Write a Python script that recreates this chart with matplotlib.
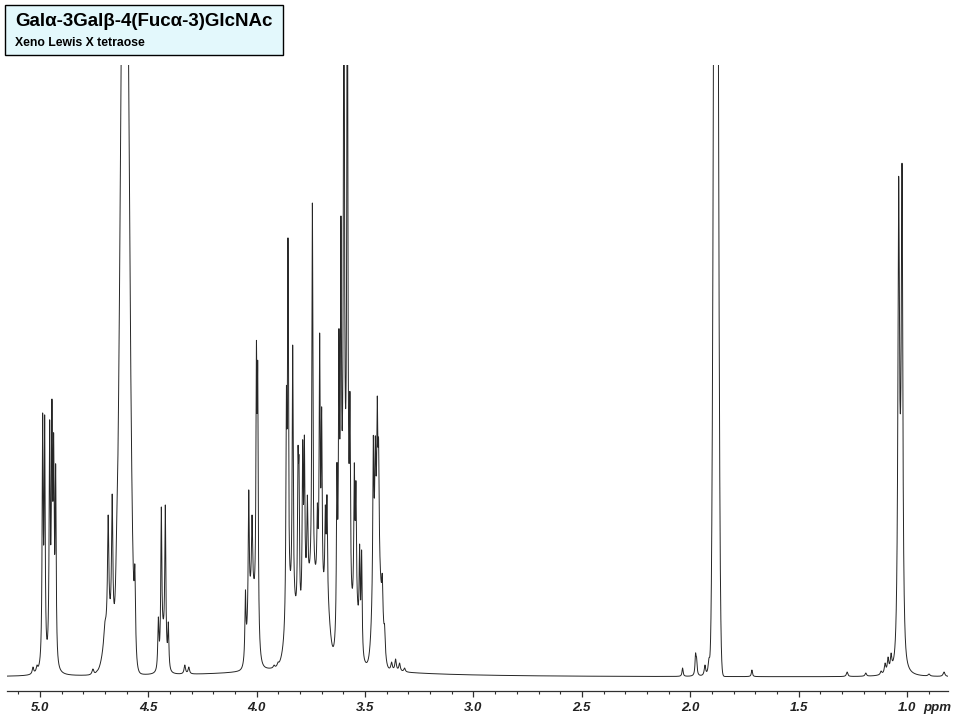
import numpy as np
import matplotlib
matplotlib.use("Agg")
import matplotlib.pyplot as plt
from matplotlib.patches import Rectangle

# ---------------- data ----------------
# sharp lines: chemical shift (ppm), apparent height (a.u.), Lorentzian half-width (ppm)
line_ppm = [5.0323, 5.0138, 4.9876, 4.9783, 4.9553, 4.9447, 4.9369, 4.9276, 4.7558, 4.7373,
            4.7005, 4.6853, 4.6668, 4.6465, 4.5622,
            4.4539, 4.4401, 4.4217, 4.4078, 4.3318, 4.3134,
            4.0521, 4.0369, 4.0217, 4.0014, 3.9954, 3.9203, 3.9018,
            3.8631, 3.8558, 3.8341, 3.8097, 3.8051, 3.7880, 3.7802, 3.7664, 3.7433,
            3.7203, 3.7097, 3.7005, 3.6835, 3.6760,
            3.6300, 3.6207, 3.6115, 3.5977, 3.5820, 3.5700, 3.5498, 3.5424, 3.5253, 3.5161,
            3.4622, 3.4530, 3.4438, 3.4378, 3.4207, 3.4101, 3.3779, 3.3594, 3.3410, 3.3180,
            2.0355, 1.9756, 1.9710, 1.9323, 1.9138, 1.7157,
            1.2765, 1.1903, 1.1198, 1.1014, 1.0876, 1.0737, 1.0387, 1.0230, 0.8986, 0.8295]
line_height = [10, 12, 264, 262, 257, 278, 244, 213, 8, 6,
               55, 162, 183, 150, 112,
               60, 170, 172, 55, 12, 10,
               87, 187, 162, 336, 315, 12, 15,
               290, 439, 332, 230, 220, 237, 242, 182, 474,
               174, 344, 270, 172, 182,
               214, 348, 461, 800, 800, 285, 214, 196, 133, 127,
               241, 241, 281, 238, 103, 52, 15, 18, 14, 9,
               9, 24, 20, 12, 19, 7,
               5, 4, 6, 14, 20, 24, 500, 513, 3, 5]
line_hw = [0.004, 0.004, 0.0028, 0.0028, 0.0028, 0.0028, 0.0028, 0.0028, 0.005, 0.005,
           0.006, 0.0035, 0.0035, 0.004, 0.0035,
           0.003, 0.0028, 0.0028, 0.003, 0.004, 0.004,
           0.0028, 0.0028, 0.0028, 0.0028, 0.0028, 0.004, 0.004,
           0.0028, 0.0028, 0.0028, 0.0028, 0.0028, 0.0028, 0.0028, 0.0028, 0.0028,
           0.0028, 0.0028, 0.0028, 0.0028, 0.0028,
           0.0028, 0.0028, 0.0028, 0.0028, 0.0028, 0.0028, 0.0028, 0.0028, 0.0028, 0.0028,
           0.0028, 0.0028, 0.0028, 0.0028, 0.003, 0.003, 0.004, 0.004, 0.004, 0.004,
           0.003, 0.003, 0.003, 0.004, 0.005, 0.003,
           0.004, 0.004, 0.004, 0.004, 0.004, 0.004, 0.0040, 0.0040, 0.005, 0.005]

# broad unresolved envelopes under the multiplets (Gaussian): centre, height, sigma
hump_ppm = [4.9447, 4.6806, 4.4309, 4.0217, 3.8387, 3.7650, 3.7189, 3.6774,
            3.5945, 3.5438, 3.4493, 3.4240, 1.0310]
hump_height = [30, 45, 30, 75, 55, 65, 60, 50, 100, 45, 120, 40, 90]
hump_sigma = [0.009, 0.023, 0.010, 0.016, 0.023, 0.023, 0.023, 0.014,
              0.018, 0.014, 0.014, 0.0115, 0.009]

# strong singlets (Gaussian): HDO and N-acetyl CH3 (tops are off scale)
singlet_ppm = [4.6083, 1.8816]
singlet_height = [960, 1400]
singlet_sigma = [0.018, 0.0090]

# slowly decaying baseline offset
base_ppm, base_height, base_hw = 3.7, 8.0, 0.4

title_text = "Gal\u03b1-3Gal\u03b2-4(Fuc\u03b1-3)GlcNAc"
subtitle_text = "Xeno Lewis X tetraose"
major_ticks = [5.0, 4.5, 4.0, 3.5, 3.0, 2.5, 2.0, 1.5, 1.0]
ppm_range = (5.152, 0.811)


# ---------------- build spectrum ----------------
def lor(x, c, w):
    return 1.0 / (1.0 + ((x - c) / w) ** 2)


def gau(x, c, s):
    return np.exp(-0.5 * ((x - c) / s) ** 2)


def background(x):
    b = base_height * lor(x, base_ppm, base_hw)
    for c, h, s in zip(hump_ppm, hump_height, hump_sigma):
        b = b + h * gau(x, c, s)
    for c, h, s in zip(singlet_ppm, singlet_height, singlet_sigma):
        b = b + h * gau(x, c, s)
    return b


lp = np.array(line_ppm)
lh = np.array(line_height, dtype=float)
lw = np.array(line_hw)
n = len(lp)
M = lor(lp[:, None], lp[None, :], lw[None, :])
rhs = lh - background(lp)
active = np.ones(n, bool)
amp = np.zeros(n)
for _ in range(100):
    idx = np.where(active)[0]
    sol = np.linalg.solve(M[np.ix_(idx, idx)], rhs[idx])
    amp[:] = 0
    amp[idx] = sol
    if (sol >= 0).all():
        break
    active[idx[sol < 0]] = False

x = np.linspace(ppm_range[0], ppm_range[1], 40000)
y = background(x)
for c, a, w in zip(lp, amp, lw):
    y = y + a * lor(x, c, w)

# ---------------- draw ----------------
fig = plt.figure(figsize=(9.6, 7.2), dpi=100)
ax = fig.add_axes([7 / 960, 1 - 691 / 720, 941 / 960, 626 / 720])
ax.plot(x, y, color="#262626", lw=0.7)
ax.set_xlim(*ppm_range)
ax.set_ylim(-14, 612)
for s in ("left", "right", "top"):
    ax.spines[s].set_visible(False)
ax.spines["bottom"].set_color("#303030")
ax.spines["bottom"].set_linewidth(0.9)
ax.set_yticks([])
ax.set_xticks(major_ticks)
ax.set_xticks(np.round(np.arange(5.1, 0.85, -0.1), 1), minor=True)
ax.tick_params(axis="x", which="major", direction="out", length=4, width=0.9,
               color="#303030", pad=4)
ax.tick_params(axis="x", which="minor", direction="out", length=2, width=0.8,
               color="#303030")
ax.set_xticklabels([f"{t:.1f}" for t in major_ticks], fontsize=9.5,
                   fontweight="bold", fontstyle="italic", family="Liberation Sans",
                   color="#222222")
fig.text(923 / 960, 1 - 708 / 720, "ppm", fontsize=9.5, fontweight="bold",
         fontstyle="italic", family="Liberation Sans", ha="left", va="center",
         color="#222222")

# title box
fig.patches.append(Rectangle((5 / 960, 1 - 55 / 720), 278 / 960, 50 / 720,
                             transform=fig.transFigure, facecolor="#e3f8fc",
                             edgecolor="black", lw=1.0, zorder=5))
fig.text(15 / 960, 1 - 22 / 720, title_text, fontsize=13.5, fontweight="bold",
         family="Liberation Sans", ha="left", va="center", zorder=6)
fig.text(15 / 960, 1 - 43 / 720, subtitle_text, fontsize=8.8, fontweight="bold",
         family="Liberation Sans", ha="left", va="center", zorder=6)

fig.savefig("out.png", dpi=100)
